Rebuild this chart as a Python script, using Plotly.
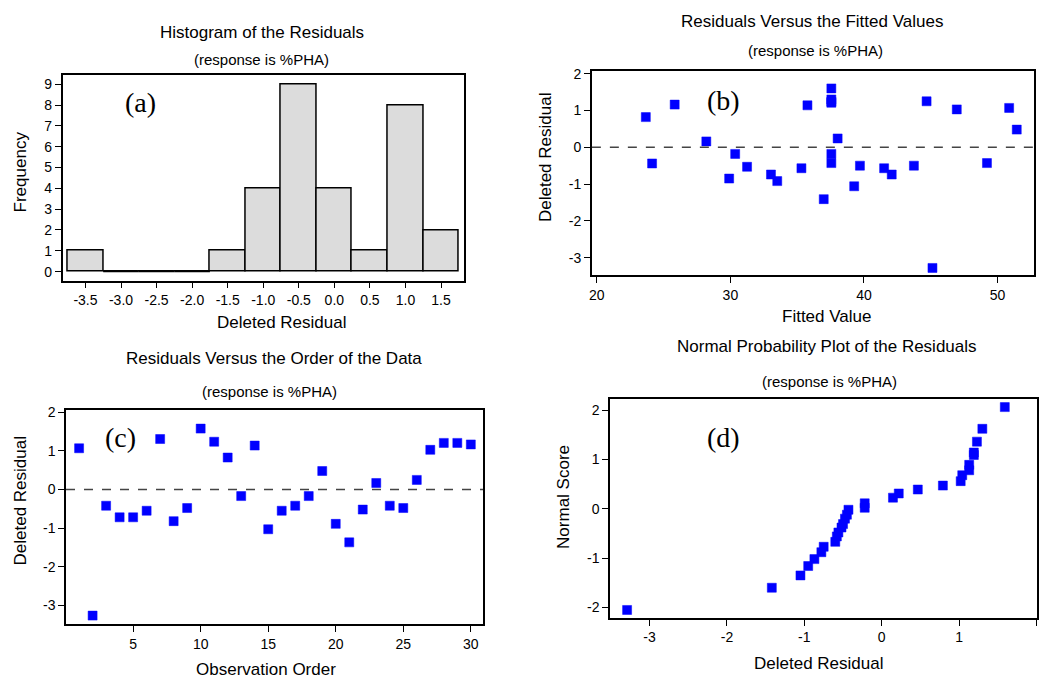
import plotly.graph_objects as go

# ---------------- data ----------------
# (a) histogram of deleted residuals
hist_centers = [-3.5, -3.0, -2.5, -2.0, -1.5, -1.0, -0.5, 0.0, 0.5, 1.0, 1.5]
hist_counts = [1, 0, 0, 0, 1, 4, 9, 4, 1, 8, 2]
hist_ticks = [-3.5, -3.0, -2.5, -2.0, -1.5, -1.0, -0.5, 0.0, 0.5, 1.0, 1.5]
hist_ticktext = ["-3.5", "-3.0", "-2.5", "-2.0", "-1.5", "-1.0", "-0.5", "0.0", "0.5", "1.0", "1.5"]
freq_ticks = [0, 1, 2, 3, 4, 5, 6, 7, 8, 9]

# (b) residuals vs fitted values
fitted = [23.67, 24.14, 25.83, 28.2, 29.91, 30.36, 31.25, 33.04, 33.51, 35.32,
          35.77, 37.56, 37.56, 37.56, 37.56, 38.03, 37.56, 37.56, 36.99, 39.27,
          39.70, 41.51, 42.08, 43.74, 44.69, 45.13, 46.95, 49.21, 50.87, 51.44]
resid_fit = [0.82, -0.44, 1.16, 0.16, -0.85, -0.18, -0.53, -0.74, -0.92, -0.57,
             1.14, 1.60, 1.30, 1.24, 1.21, 0.24, -0.18, -0.43, -1.41, -1.06,
             -0.50, -0.57, -0.74, -0.50, 1.25, -3.28, 1.03, -0.43, 1.07, 0.48]
fit_ticks = [20, 30, 40, 50]
resid_ticks = [-3, -2, -1, 0, 1, 2]
resid_ticktext = ["-3", "-2", "-1", "0", "1", "2"]

# (c) residuals vs observation order
order = list(range(1, 31))
resid_order = [1.07, -3.27, -0.42, -0.72, -0.72, -0.55, 1.31, -0.82, -0.48, 1.58,
               1.24, 0.83, -0.17, 1.14, -1.03, -0.55, -0.42, -0.17, 0.48, -0.89,
               -1.37, -0.52, 0.17, -0.42, -0.48, 0.25, 1.03, 1.21, 1.21, 1.17]
order_ticks = [5, 10, 15, 20, 25, 30]

# (d) normal probability plot
npp_resid = [-3.29, -1.42, -1.05, -0.95, -0.87, -0.78, -0.75, -0.60, -0.58, -0.56,
             -0.52, -0.50, -0.475, -0.45, -0.43, -0.22, -0.22, 0.145, 0.22, 0.466,
             0.79, 1.02, 1.04, 1.13, 1.13, 1.19, 1.19, 1.23, 1.30, 1.59]
npp_score = [-2.05, -1.60, -1.35, -1.16, -1.02, -0.88, -0.77, -0.67, -0.56, -0.48,
             -0.38, -0.31, -0.20, -0.12, -0.02, 0.02, 0.11, 0.225, 0.31, 0.39,
             0.47, 0.56, 0.68, 0.78, 0.89, 1.09, 1.14, 1.36, 1.62, 2.06]
npp_xticks = [-3, -2, -1, 0, 1, 2]
npp_xticktext = ["-3", "-2", "-1", "0", "1", "2"]
npp_yticks = [-2, -1, 0, 1, 2]
npp_yticktext = ["-2", "-1", "0", "1", "2"]

# ---------------- figure ----------------
FONT = "Liberation Sans, Arial, sans-serif"
SERIF = "Liberation Serif, Times New Roman, serif"
BLUE = "#0000ff"
W, H = 1039, 680
TITLE_SIZE, SUB_SIZE, AXT_SIZE, TICK_SIZE = 17, 15, 17, 14

fig = go.Figure()

# (a) bars
fig.add_trace(go.Bar(x=hist_centers, y=hist_counts, width=0.5,
                     marker=dict(color="#dcdcdc", line=dict(color="black", width=1.5)),
                     xaxis="x", yaxis="y"))
# zero-count bins drawn as their baseline
zx, zy = [], []
for c, n in zip(hist_centers, hist_counts):
    if n == 0:
        zx += [c - 0.25, c + 0.25, None]
        zy += [0, 0, None]
fig.add_trace(go.Scatter(x=zx, y=zy, mode="lines", line=dict(color="black", width=1.5),
                         xaxis="x", yaxis="y", hoverinfo="skip"))

mk = dict(symbol="square", size=9, color=BLUE, line=dict(color=BLUE, width=0.5))
fig.add_trace(go.Scatter(x=fitted, y=resid_fit, mode="markers", marker=mk,
                         xaxis="x2", yaxis="y2"))
fig.add_trace(go.Scatter(x=order, y=resid_order, mode="markers", marker=mk,
                         xaxis="x3", yaxis="y3"))
fig.add_trace(go.Scatter(x=npp_resid, y=npp_score, mode="markers", marker=mk,
                         xaxis="x4", yaxis="y4"))


def ax(**kw):
    d = dict(showline=True, linecolor="black", linewidth=1.5, mirror=True,
             ticks="outside", ticklen=6, tickwidth=1.2, tickcolor="black",
             showgrid=False, zeroline=False, fixedrange=True,
             tickfont=dict(family=FONT, size=TICK_SIZE, color="black"))
    d.update(kw)
    return d


def px(x):
    return x / W


def py(y):
    return 1 - y / H


layout = dict(
    width=W, height=H, autosize=False,
    margin=dict(l=0, r=0, t=0, b=0),
    paper_bgcolor="white", plot_bgcolor="white",
    showlegend=False, bargap=0,
    xaxis=ax(domain=[px(60), px(463)], range=[-3.82, 1.82], anchor="y",
             tickvals=hist_ticks, ticktext=hist_ticktext),
    yaxis=ax(domain=[py(277), py(70)], range=[-0.43, 9.43], anchor="x",
             tickvals=freq_ticks),
    xaxis2=ax(domain=[px(591.7), px(1035.7)], range=[19.63, 52.71], anchor="y2",
              tickvals=fit_ticks),
    yaxis2=ax(domain=[py(271.7), py(65.7)], range=[-3.48, 2.07], anchor="x2",
              tickvals=resid_ticks, ticktext=resid_ticktext),
    xaxis3=ax(domain=[px(63.3), px(482.3)], range=[0.03, 30.9], anchor="y3",
              tickvals=order_ticks),
    yaxis3=ax(domain=[py(624), py(407.7)], range=[-3.5, 2.06], anchor="x3",
              tickvals=resid_ticks, ticktext=resid_ticktext),
    xaxis4=ax(domain=[px(610), 1.0], range=[-3.51, 2.006], anchor="y4",
              tickvals=npp_xticks, ticktext=npp_xticktext),
    yaxis4=ax(domain=[py(617.3), py(396.7)], range=[-2.21, 2.22], anchor="x4",
              tickvals=npp_yticks, ticktext=npp_yticktext),
)
fig.update_layout(**layout)

# dashed zero reference lines
for xa, ya in (("x2", "y2"), ("x3", "y3")):
    fig.add_shape(type="line", xref=f"{xa} domain", yref=ya, x0=0, x1=1, y0=0, y1=0,
                  line=dict(color="#444444", width=1.5, dash="dash"))

ann = []


def text(x, y, s, size, family=FONT, angle=0):
    ann.append(dict(x=px(x), y=py(y), xref="paper", yref="paper", text=s,
                    showarrow=False, textangle=angle, xanchor="center", yanchor="middle",
                    font=dict(family=family, size=size, color="black")))


# (a)
text(260, 27, "Histogram of the Residuals", TITLE_SIZE)
text(260, 54, "(response is %PHA)", SUB_SIZE)
text(138, 97, "(a)", 28, SERIF)
text(18, 167, "Frequency", AXT_SIZE, angle=-90)
text(280, 319, "Deleted Residual", AXT_SIZE)
# (b)
text(813, 16, "Residuals Versus the Fitted Values", TITLE_SIZE)
text(816, 45, "(response is %PHA)", SUB_SIZE)
text(724, 95, "(b)", 28, SERIF)
text(545, 153, "Deleted Residual", AXT_SIZE, angle=-90)
text(827, 313, "Fitted Value", AXT_SIZE)
# (c)
text(272, 356, "Residuals Versus the Order of the Data", TITLE_SIZE)
text(268, 389, "(response is %PHA)", SUB_SIZE)
text(118, 435, "(c)", 28, SERIF)
text(18, 499, "Deleted Residual", AXT_SIZE, angle=-90)
text(264, 669, "Observation Order", AXT_SIZE)
# (d)
text(828, 344, "Normal Probability Plot of the Residuals", TITLE_SIZE)
text(830, 379, "(response is %PHA)", SUB_SIZE)
text(724, 435, "(d)", 28, SERIF)
text(563, 495, "Normal Score", AXT_SIZE, angle=-90)
text(819, 663, "Deleted Residual", AXT_SIZE)

fig.update_layout(annotations=ann)
fig.write_html("out.html")
